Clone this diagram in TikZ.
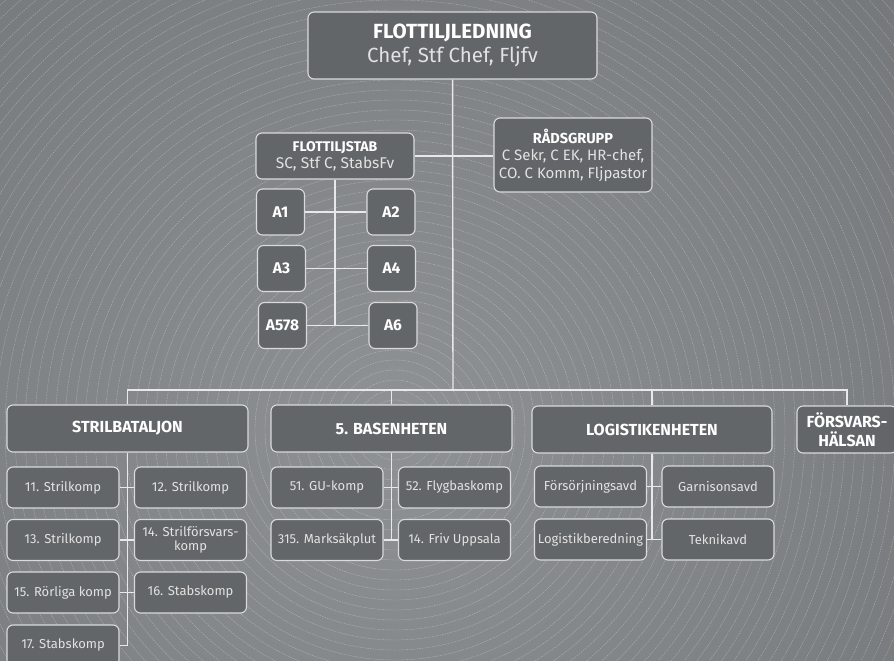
\documentclass[tikz,border=0pt]{standalone}
\usepackage{fontspec}
\setmainfont{Fira Sans}
\definecolor{bgdark}{HTML}{6C6F71}
\definecolor{bglight}{HTML}{8F9294}
\definecolor{boxfill}{HTML}{636668}
\definecolor{boxline}{HTML}{DADADA}
\definecolor{linecol}{HTML}{E8E8E8}
\definecolor{subtext}{HTML}{E2E2E2}
\begin{document}
\begin{tikzpicture}[x=1pt, y=-1pt,
    box/.style={draw=boxline, fill=boxfill, rounded corners=6pt, line width=1.1pt, text=white, align=center, inner sep=0pt},
    head/.style={box, font=\bfseries\fontsize{16}{19}\selectfont, minimum width=241pt, minimum height=47pt},
    sub/.style={box, text=subtext, font=\fontsize{13}{14}\selectfont, minimum width=112pt, minimum height=41pt},
    abox/.style={box, font=\bfseries\fontsize{15.5}{18}\selectfont, minimum width=48pt, minimum height=46pt},
    link/.style={draw=linecol, line width=1.4pt}]
\useasboundingbox (0,0) rectangle (894,661);
\begin{scope}
    \clip (0,0) rectangle (894,661);
    \fill[bgdark] (0,0) rectangle (894,661);
    \shade[inner color=bglight, outer color=bgdark] (395,430) circle (900);
    \foreach \r in {20,30,...,680}
        \draw[white, opacity=0.35, line width=0.4pt, dash pattern=on 1.6pt off 1pt] (395,430) circle (\r);
\end{scope}

\node[box, font=\fontsize{20.5}{24}\selectfont, minimum width=289pt, minimum height=67pt] (lead) at (452.5,45.5)
    {\textbf{FLOTTILJLEDNING}\\{\color{subtext}Chef, Stf Chef, Fljfv}};
\node[box, font=\fontsize{14}{17}\selectfont, minimum width=158pt, minimum height=46pt] (stab) at (335,156)
    {\textbf{FLOTTILJSTAB}\\{\color{subtext}\fontsize{15.5}{17}\selectfont SC, Stf C, StabsFv}};
\node[box, font=\fontsize{14.5}{17.5}\selectfont, minimum width=158pt, minimum height=74pt] (rad) at (573,155)
    {\textbf{RÅDSGRUPP}\\{\color{subtext}\fontsize{15}{17.5}\selectfont C Sekr, C EK, HR-chef,}\\{\color{subtext}\fontsize{15}{17.5}\selectfont CO. C Komm, Fljpastor}};

\node[abox] (a1) at (280.5,212) {A1};
\node[abox] (a2) at (391,212) {A2};
\node[abox] (a3) at (281.5,268.5) {A3};
\node[abox] (a4) at (391.5,268.5) {A4};
\node[abox] (a578) at (282.5,325.5) {A578};
\node[abox] (a6) at (393,325.5) {A6};

\node[head] (strilbat) at (127.5,428.5) {STRILBATALJON};
\node[head] (basen) at (391.5,428.5) {5. BASENHETEN};
\node[head, minimum width=240pt] (logist) at (652,429.5) {LOGISTIKENHETEN};
\node[head, minimum width=100pt] (forsvar) at (847,429.5) {FÖRSVARS-\\HÄLSAN};

\node[sub] (s11) at (63,487.5) {11. Strilkomp};
\node[sub] (s12) at (190.5,487.5) {12. Strilkomp};
\node[sub] (s13) at (63,540) {13. Strilkomp};
\node[sub] (s14) at (190.5,540) {14. Strilförsvars-\\komp};
\node[sub] (s15) at (63,592.5) {15. Rörliga komp};
\node[sub] (s16) at (190.5,592.5) {16. Stabskomp};
\node[sub] (s17) at (63,645.5) {17. Stabskomp};

\node[sub] (b51) at (327,487.5) {51. GU-komp};
\node[sub] (b52) at (454.5,487.5) {52. Flygbaskomp};
\node[sub] (b315) at (327,540) {315. Marksäkplut};
\node[sub] (b14) at (454.5,540) {14. Friv Uppsala};

\node[sub] (l1) at (590.5,486.5) {Försörjningsavd};
\node[sub] (l2) at (718,486.5) {Garnisonsavd};
\node[sub] (l3) at (590.5,539.5) {Logistikberedning};
\node[sub] (l4) at (718,539.5) {Teknikavd};

\coordinate (bar) at (453,390);
\draw[link] (lead) -- (bar);
\draw[link] (stab.east) -- (stab.east -| rad.west);
\draw[link] (strilbat.north) -- (strilbat.north |- bar) -- (forsvar.north |- bar) -- (forsvar.north);
\draw[link] (basen.north) -- (basen.north |- bar);
\draw[link] (logist.north) -- (logist.north |- bar);

\draw[link] (stab.south) -- (stab.south |- a6.west);
\foreach \l/\r in {a1/a2, a3/a4, a578/a6}
    \draw[link] (\l.east) -- (\r.west);

\draw[link] (strilbat.south) -- (strilbat.south |- s17.east) -- (s17.east);
\foreach \l/\r in {s11/s12, s13/s14, s15/s16}
    \draw[link] (\l.east) -- (\r.west);

\draw[link] (basen.south) -- (basen.south |- b14.west);
\foreach \l/\r in {b51/b52, b315/b14}
    \draw[link] (\l.east) -- (\r.west);

\draw[link] (logist.south) -- (logist.south |- l4.west);
\foreach \l/\r in {l1/l2, l3/l4}
    \draw[link] (\l.east) -- (\r.west);
\end{tikzpicture}
\end{document}
